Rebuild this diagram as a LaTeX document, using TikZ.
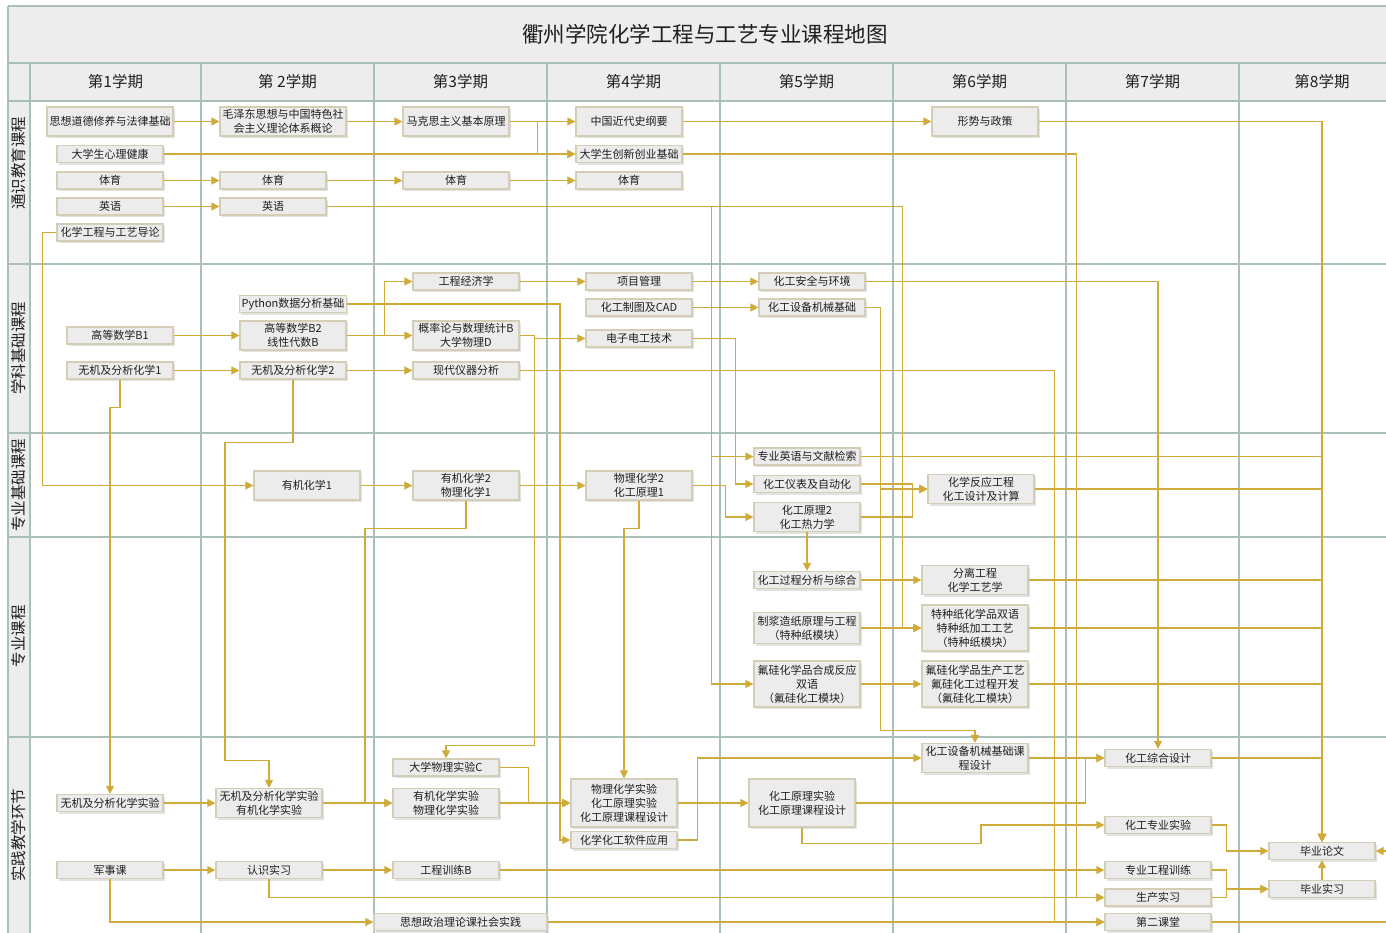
\documentclass[tikz,border=0pt]{standalone}
\usepackage{fontspec}
\setmainfont{Noto Sans CJK SC}
\usetikzlibrary{arrows.meta,shadows}
\definecolor{linkgold}{RGB}{207,172,58}
\definecolor{boxfill}{RGB}{236,236,236}
\definecolor{boxrim}{RGB}{212,206,184}
\definecolor{gridline}{RGB}{170,190,187}
\definecolor{bandfill}{RGB}{237,237,237}
\begin{document}
\begin{tikzpicture}[x=1pt,y=-1pt,
  course/.style={draw=boxrim,fill=boxfill,line width=1.2pt,minimum width=106pt,minimum height=17pt,inner sep=1pt,align=center,text=black!88,font=\fontsize{11}{14}\selectfont,drop shadow={shadow xshift=1.5pt,shadow yshift=-2pt,fill=black!22}},
  tall/.style={minimum height=29pt},
  link/.style={draw=linkgold,line width=1.25pt,-{Triangle[length=8pt,width=8pt]}},
  laneline/.style={draw=gridline,line width=1.2pt},
  head/.style={text=black!88,font=\fontsize{15.5}{18}\selectfont},
  lanename/.style={rotate=90,text=black!88,font=\fontsize{15.5}{18}\selectfont}]

\useasboundingbox (0,0) rectangle (1386,932);
\fill[white] (0,0) rectangle (1386,932);
\fill[bandfill] (8,6) rectangle (1400,101);
\fill[bandfill] (8,101) rectangle (30,940);
\draw[laneline] (8,6) -- (1400,6);
\draw[laneline] (8,63) -- (1400,63);
\draw[laneline] (8,101) -- (1400,101);
\draw[laneline] (8,264) -- (1400,264);
\draw[laneline] (8,433) -- (1400,433);
\draw[laneline] (8,537) -- (1400,537);
\draw[laneline] (8,737) -- (1400,737);
\draw[laneline] (8,6) -- (8,940);
\draw[laneline] (30,63) -- (30,940);
\draw[laneline] (201,63) -- (201,940);
\draw[laneline] (374,63) -- (374,940);
\draw[laneline] (547,63) -- (547,940);
\draw[laneline] (720,63) -- (720,940);
\draw[laneline] (893,63) -- (893,940);
\draw[laneline] (1066,63) -- (1066,940);
\draw[laneline] (1239,63) -- (1239,940);

\node[text=black!88,font=\fontsize{21.5}{24}\selectfont] (Ttl) at (705,34) {衢州学院化学工程与工艺专业课程地图};
\node[head] (Hd1) at (115.5,82) {第1学期};
\node[head] (Hd2) at (287.5,82) {第 2学期};
\node[head] (Hd3) at (460.5,82) {第3学期};
\node[head] (Hd4) at (633.5,82) {第4学期};
\node[head] (Hd5) at (806.5,82) {第5学期};
\node[head] (Hd6) at (979.5,82) {第6学期};
\node[head] (Hd7) at (1152.5,82) {第7学期};
\node[head] (Hd8) at (1322,82) {第8学期};

\node[lanename] (Ln1) at (19,163) {通识教育课程};
\node[lanename] (Ln2) at (19,348) {学科基础课程};
\node[lanename] (Ln3) at (19,485) {专业基础课程};
\node[lanename] (Ln4) at (19,636) {专业课程};
\node[lanename] (Ln5) at (19,835) {实践教学环节};

\node[course,tall,minimum width=126pt] (A1) at (110,121.5) {思想道德修养与法律基础};
\node[course,tall,minimum width=126pt] (A2) at (283,121.5) {毛泽东思想与中国特色社\\会主义理论体系概论};
\node[course,tall] (A3) at (456,121.5) {马克思主义基本原理};
\node[course,tall] (A4) at (629,121.5) {中国近代史纲要};
\node[course,tall] (A5) at (985,121.5) {形势与政策};
\node[course] (B1) at (110,154) {大学生心理健康};
\node[course] (B4) at (629,154) {大学生创新创业基础};
\node[course] (C1) at (110,180.5) {体育};
\node[course] (C2) at (273,180.5) {体育};
\node[course] (C3) at (456,180.5) {体育};
\node[course] (C4) at (629,180.5) {体育};
\node[course] (D1) at (110,206.5) {英语};
\node[course] (D2) at (273,206.5) {英语};
\node[course] (E1) at (110,232.5) {化学工程与工艺导论};

\node[course] (F3) at (466,281.5) {工程经济学};
\node[course] (F4) at (639,281.5) {项目管理};
\node[course] (F5) at (812,281.5) {化工安全与环境};
\node[course,minimum width=107pt] (G2) at (293,304) {Python数据分析基础};
\node[course] (G4) at (639,307.5) {化工制图及CAD};
\node[course] (G5) at (812,307.5) {化工设备机械基础};
\node[course] (H1) at (120,335.5) {高等数学B1};
\node[course,tall] (H2) at (293,335.5) {高等数学B2\\线性代数B};
\node[course,tall] (H3) at (466,335.5) {概率论与数理统计B\\大学物理D};
\node[course] (H4) at (639,338.5) {电子电工技术};
\node[course] (I1) at (120,370.5) {无机及分析化学1};
\node[course] (I2) at (293,370.5) {无机及分析化学2};
\node[course] (I3) at (466,370.5) {现代仪器分析};

\node[course,tall] (J2) at (307,485.5) {有机化学1};
\node[course,tall] (J3) at (466,485.5) {有机化学2\\物理化学1};
\node[course,tall] (J4) at (639,485.5) {物理化学2\\化工原理1};
\node[course] (K5) at (807,456.5) {专业英语与文献检索};
\node[course] (L5) at (807,484) {化工仪表及自动化};
\node[course,tall] (M5) at (807,517) {化工原理2\\化工热力学};
\node[course,tall] (N6) at (981,489) {化学反应工程\\化工设计及计算};

\node[course] (P5) at (807,580) {化工过程分析与综合};
\node[course,tall] (P6) at (975,580) {分离工程\\化学工艺学};
\node[course,minimum height=31pt] (Q5) at (807,628) {制浆造纸原理与工程\\（特种纸模块）};
\node[course,minimum height=46pt] (Q6) at (975,628) {特种纸化学品双语\\特种纸加工工艺\\（特种纸模块）};
\node[course,minimum height=46pt] (R5) at (807,684) {氟硅化学品合成反应\\双语\\（氟硅化工模块）};
\node[course,minimum height=46pt] (R6) at (975,684) {氟硅化学品生产工艺\\氟硅化工过程开发\\（氟硅化工模块）};

\node[course] (T3) at (446,767.5) {大学物理实验C};
\node[course] (S1) at (110,803) {无机及分析化学实验};
\node[course,tall] (S2) at (269,803) {无机及分析化学实验\\有机化学实验};
\node[course,tall] (S3) at (446,803) {有机化学实验\\物理化学实验};
\node[course,minimum height=48pt] (S4) at (624,803) {物理化学实验\\化工原理实验\\化工原理课程设计};
\node[course] (U4) at (624,840) {化学化工软件应用};
\node[course,minimum height=48pt] (S5) at (802,803) {化工原理实验\\化工原理课程设计};
\node[course,tall] (V6) at (975,758) {化工设备机械基础课\\程设计};
\node[course] (W7) at (1158,758) {化工综合设计};
\node[course] (X7) at (1158,825) {化工专业实验};
\node[course] (Y7) at (1158,870) {专业工程训练};
\node[course] (Z7) at (1158,897.5) {生产实习};
\node[course] (O7) at (1158,922) {第二课堂};
\node[course] (Y8) at (1322,851) {毕业论文};
\node[course] (Z8) at (1322,889) {毕业实习};
\node[course] (K1) at (110,870) {军事课};
\node[course] (K2) at (269,870) {认识实习};
\node[course] (K3) at (446,870) {工程训练B};
\node[course,minimum width=173pt] (O3) at (460.5,922) {思想政治理论课社会实践};

\draw[link] (A1) -- (A2);
\draw[link] (A2) -- (A3);
\draw[link] (A3) -- (A4);
\draw[link] (A4) -- (A5);
\draw[link] (A3.east) -- ++(28,0) |- (B4.west);
\draw[link] (B1) -- (B4);
\draw[link] (A5.east) -| (Y8.north);
\draw[link] (B4.east) -- ++(394,0) |- (Z7.west);
\draw[link] (C1) -- (C2);
\draw[link] (C2) -- (C3);
\draw[link] (C3) -- (C4);
\draw[link] (D1) -- (D2);
\draw[link] (D2.east) -- ++(385,0) |- (K5.west);
\draw[link] (D2.east) -- ++(385,0) |- (R5.west);
\draw[link] (D2.east) -- ++(576,0) |- (Q6.west);
\draw[link] (E1.west) -- ++(-14,0) |- (J2.west);

\draw[link] (H1) -- (H2);
\draw[link] (H2) -- (H3);
\draw[link] (H2.east) -- ++(38,0) |- (F3.west);
\draw[link] (F3) -- (F4);
\draw[link] (F4) -- (F5);
\draw[link] (F5.east) -| (W7.north);
\draw[link] (G4) -- (G5);
\draw[link] (G5.east) -- ++(15,0) |- (N6.west);
\draw[link] (G5.east) -- ++(15,0) -- ++(0,423) -| (V6.north);
\draw[link] (G2.east) -- ++(213,0) |- (U4.west);
\draw[link] (H3.east) -- ++(15,0) |- (H4.west);
\draw[link] (H3.east) -- ++(15,0) -- ++(0,410) -| (T3.north);
\draw[link] (H4.east) -- ++(43,0) |- (L5.west);
\draw[link] (I1) -- (I2);
\draw[link] (I2) -- (I3);
\draw[link] (I3.east) -- ++(535,0) |- (O7.west);
\draw[link] (I1.south) -- ++(0,28) -| (S1.north);
\draw[link] (I2.south) -- ++(0,63) -- ++(-68,0) -- ++(0,318) -| (S2.north);

\draw[link] (J2) -- (J3);
\draw[link] (J3) -- (J4);
\draw[link] (J3.south) -- ++(0,28) -- ++(-101,0) |- (S3.west);
\draw[link] (J4.south) -- ++(0,28) -| (S4.north);
\draw[link] (J4.east) -- ++(33,0) |- (M5.west);
\draw[link] (K5.east) -| (Y8.north);
\draw[link] (L5.east) -- ++(52,0) |- (N6.west);
\draw[link] (M5.east) -- ++(52,0) |- (N6.west);
\draw[link] (N6.east) -| (Y8.north);
\draw[link] (M5) -- (P5);

\draw[link] (P5) -- (P6);
\draw[link] (Q5) -- (Q6);
\draw[link] (R5) -- (R6);
\draw[link] (P6.east) -| (Y8.north);
\draw[link] (Q6.east) -| (Y8.north);
\draw[link] (R6.east) -| (Y8.north);

\draw[link] (S1) -- (S2);
\draw[link] (S2) -- (S3);
\draw[link] (S3) -- (S4);
\draw[link] (T3.east) -- ++(29,0) |- (S4.west);
\draw[link] (S4) -- (S5);
\draw[link] (U4.east) -- ++(20,0) |- (V6.west);
\draw[link] (V6) -- (W7);
\draw[link] (S5.east) -- ++(230,0) |- (W7.west);
\draw[link] (S5.south) -- ++(0,16) -- ++(179,0) |- (X7.west);
\draw[link] (W7.east) -| (Y8.north);
\draw[link] (X7.east) -- ++(15,0) |- (Y8.west);
\draw[link] (Y7.east) -- ++(15,0) |- (Z8.west);
\draw[link] (Z7.east) -- ++(15,0) |- (Z8.west);
\draw[link] (Z8) -- (Y8);
\draw[link] (O7.east) -- ++(240,0) |- (Y8.east);
\draw[link] (K1) -- (K2);
\draw[link] (K2) -- (K3);
\draw[link] (K3) -- (Y7);
\draw[link] (K2.south) |- (Z7.west);
\draw[link] (K1.south) |- (O3.west);
\draw[link] (O3) -- (O7);
\end{tikzpicture}
\end{document}
